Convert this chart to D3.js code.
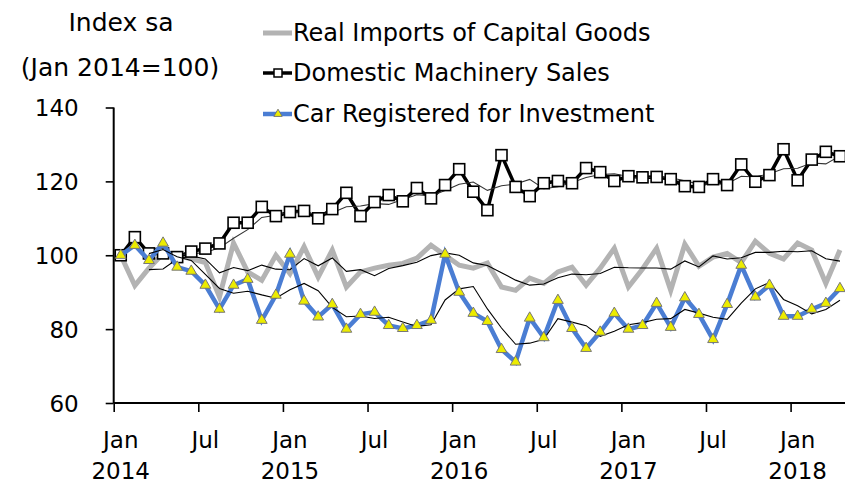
<!DOCTYPE html>
<html><head><meta charset="utf-8">
<script src="https://cdn.jsdelivr.net/npm/d3@7/dist/d3.min.js"></script>
<style>
body{margin:0;background:#fff}
svg{display:block}
text{font-family:"DejaVu Sans",sans-serif;fill:#000}
</style>
</head><body>
<svg id="c" width="845" height="486"></svg>
<script>
// ---- data (monthly, Jan 2014 .. Apr 2018), Index sa, Jan 2014 = 100 ----
const months = d3.timeMonth.range(new Date(2014,0,1), new Date(2018,4,1));
const imports = [100,91.8,96.5,100.5,100,99,98,88.7,103.3,95.5,93.2,100,95,102.3,94.1,101.4,91.4,95.5,96.5,97.3,97.8,99.2,102.7,100,97.3,96.5,97.9,91.4,90.5,93.8,92.4,95.5,96.8,91.9,96.5,101.9,91.4,96.3,101.9,90.5,103,97,99.5,100.5,98,103.8,100.5,99,103.3,101.4,92.4,101.4];
const machinery = [100,104.9,100.5,100.5,99.5,101,101.8,103.2,108.8,108.8,113.1,110.6,111.7,112,110,112.5,116.9,110.6,114.4,116.3,114.6,118.2,115.4,119,123.3,117.2,112.2,127.1,118.5,116,119.5,120.1,119.5,123.6,122.5,120.1,121.4,121.1,121.2,120.6,118.7,118.5,120.6,119,124.6,119.9,121.7,128.7,120.3,125.9,128,126.8];
const cars = [100,102.7,98.6,103.3,96.8,95.7,91.9,85.4,91.9,93.5,82.4,89.2,100.3,87.6,83.3,86.7,80,84,84.6,81,80.2,81,82.4,100.3,90,84.3,82.1,74.5,71.1,83,77.7,87.8,80.2,74.8,79.2,84.3,80,81,87,80.5,88.5,84,77.2,86.7,97.3,88.7,91.9,83.5,83.5,85.4,87,91];
const seriesNames = ["Real Imports of Capital Goods","Domestic Machinery Sales","Car Registered for Investment"];
const yTicks = [60,80,100,120,140];
const xTickIdx = [0,6,12,18,24,30,36,42,48];
const xTickMonthLabels = ["Jan","Jul","Jan","Jul","Jan","Jul","Jan","Jul","Jan"];
const xTickYearLabels = ["2014","","2015","","2016","","2017","","2018"];
const titleLines = ["Index sa","(Jan 2014=100)"];

// 3-month moving average (trend lines)
function ma3(a){ return a.map((v,i)=> i<2 ? null : d3.mean(a.slice(i-2,i+1))); }

const svg = d3.select("#c");
const x = d3.scaleLinear().domain([0, months.length]).range([113.7, 847]);
const y = d3.scaleLinear().domain([60,140]).range([403,107.5]);
const px = i => x(i+0.5);

// axes
const yAxis = svg.append("g").attr("transform","translate(113.7,0)")
  .call(d3.axisLeft(y).tickValues(yTicks).tickSize(8).tickPadding(27).tickFormat(d3.format("d")));
yAxis.select(".domain").attr("d", `M0,${y(140)}V${y(60)}`).attr("stroke","#000").attr("stroke-width",2);
yAxis.selectAll(".tick line").attr("stroke","#000").attr("stroke-width",1.6);
yAxis.selectAll(".tick text").style("font-size","23px").attr("dy","0.36em");

const xAxis = svg.append("g").attr("transform",`translate(0,${y(60)})`)
  .call(d3.axisBottom(x).tickValues(xTickIdx).tickSize(9).tickFormat(""));
xAxis.select(".domain").attr("d", `M${x(0)},0H845`).attr("stroke","#000").attr("stroke-width",2);
xAxis.selectAll(".tick line").attr("stroke","#000").attr("stroke-width",1.6);

const xl = svg.append("g");
xTickIdx.forEach((m,k)=>{
  xl.append("text").attr("x",px(m)).attr("y",448).attr("text-anchor","middle").style("font-size","23px").text(xTickMonthLabels[k]);
  if (xTickYearLabels[k]) xl.append("text").attr("x",px(m)).attr("y",479).attr("text-anchor","middle").style("font-size","23px").text(xTickYearLabels[k]);
});

// title
svg.append("text").attr("x",121).attr("y",31).attr("text-anchor","middle").style("font-size","25px").text(titleLines[0]);
svg.append("text").attr("x",120).attr("y",76).attr("text-anchor","middle").style("font-size","25px").text(titleLines[1]);

const line = d3.line().defined(d=>d!=null).x((d,i)=>px(i)).y(d=>y(d));
svg.append("defs").append("clipPath").attr("id","clp").append("rect").attr("x",0).attr("y",0).attr("width",845).attr("height",486);
const plot = svg.append("g").attr("clip-path","url(#clp)");

// imports
plot.append("path").datum(imports).attr("d",line).attr("fill","none").attr("stroke","#b3b3b3").attr("stroke-width",5).attr("stroke-linejoin","miter");
plot.append("path").datum(ma3(imports)).attr("d",line).attr("fill","none").attr("stroke","#000").attr("stroke-width",1.1);
// machinery
plot.append("path").datum(machinery).attr("d",line).attr("fill","none").attr("stroke","#000").attr("stroke-width",3.5);
plot.append("path").datum(ma3(machinery)).attr("d",line).attr("fill","none").attr("stroke","#333").attr("stroke-width",1.1);
plot.selectAll(".sq").data(machinery).enter().append("rect")
  .attr("x",(d,i)=>px(i)-5.5).attr("y",d=>y(d)-5.5).attr("width",11).attr("height",11)
  .attr("fill","#fff").attr("stroke","#000").attr("stroke-width",1.6);
// cars
plot.append("path").datum(cars).attr("d",line).attr("fill","none").attr("stroke","#4a7dd3").attr("stroke-width",4.5);
plot.append("path").datum(ma3(cars)).attr("d",line).attr("fill","none").attr("stroke","#000").attr("stroke-width",1.1);
const tri = d3.symbol().type(d3.symbolTriangle).size(50);
plot.selectAll(".tr").data(cars).enter().append("path")
  .attr("d",tri).attr("transform",(d,i)=>`translate(${px(i)},${y(d)})`)
  .attr("fill","#ecec00").attr("stroke","#777").attr("stroke-width",1);

// legend
const lg = svg.append("g");
const rows = [33, 73, 114];
lg.append("line").attr("x1",263).attr("x2",292).attr("y1",rows[0]).attr("y2",rows[0]).attr("stroke","#b3b3b3").attr("stroke-width",5);
lg.append("line").attr("x1",263).attr("x2",292).attr("y1",rows[1]).attr("y2",rows[1]).attr("stroke","#000").attr("stroke-width",3.5);
lg.append("rect").attr("x",274).attr("y",rows[1]-4).attr("width",8).attr("height",8).attr("fill","#fff").attr("stroke","#000").attr("stroke-width",1.5);
lg.append("line").attr("x1",263).attr("x2",292).attr("y1",rows[2]).attr("y2",rows[2]).attr("stroke","#4a7dd3").attr("stroke-width",4.5);
lg.append("path").attr("d",d3.symbol().type(d3.symbolTriangle).size(30)).attr("transform",`translate(278,${rows[2]})`).attr("fill","#ecec00").attr("stroke","#777").attr("stroke-width",1);
seriesNames.forEach((s,k)=>{
  lg.append("text").attr("x",293).attr("y",rows[k]+8).style("font-size","24px").text(s);
});
</script>
</body></html>
